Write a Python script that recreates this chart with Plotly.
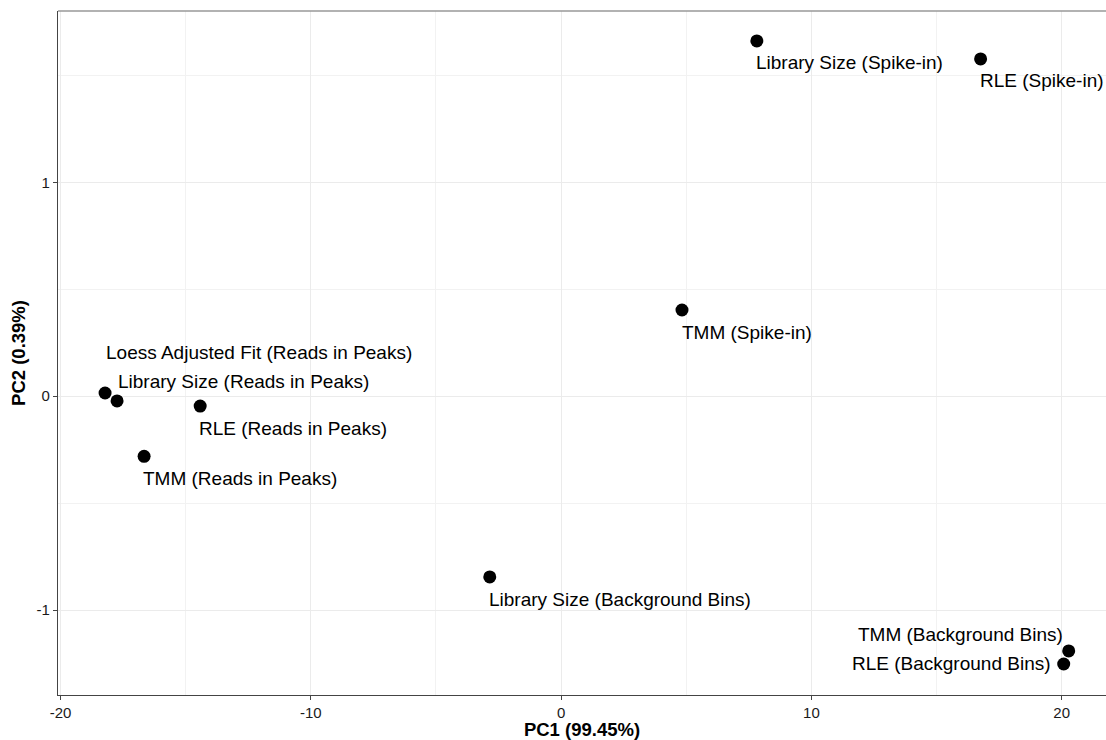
import plotly.graph_objects as go

labels = [
    "Library Size (Spike-in)",
    "RLE (Spike-in)",
    "TMM (Spike-in)",
    "Loess Adjusted Fit (Reads in Peaks)",
    "Library Size (Reads in Peaks)",
    "RLE (Reads in Peaks)",
    "TMM (Reads in Peaks)",
    "Library Size (Background Bins)",
    "TMM (Background Bins)",
    "RLE (Background Bins)",
]
pc1 = [7.82, 16.76, 4.83, -18.22, -17.74, -14.42, -16.66, -2.85, 20.28, 20.08]
pc2 = [1.661, 1.577, 0.403, 0.015, -0.022, -0.046, -0.281, -0.845, -1.191, -1.252]

# label placement (repel-like offsets, pixels): (xanchor, xshift, yshift)
label_pos = [
    ("left", -3, -22),
    ("left", -3, -22),
    ("left", -2, -22),
    ("left", -1, 41),
    ("left", -1, 19),
    ("left", -3, -22),
    ("left", -3, -22),
    ("left", -3, -23),
    ("right", -4, 16),
    ("right", -11, 0),
]

FONT = "Liberation Sans, Arial, Helvetica, sans-serif"

fig = go.Figure()
fig.add_trace(go.Scatter(
    x=pc1, y=pc2, mode="markers",
    marker=dict(size=13, color="black"),
    showlegend=False, hoverinfo="text", text=labels,
))

for lab, x, y, (xa, xs, ys) in zip(labels, pc1, pc2, label_pos):
    fig.add_annotation(
        x=x, y=y, text=lab, showarrow=False,
        xanchor=xa, yanchor="middle", xshift=xs, yshift=ys,
        font=dict(size=19, color="black", family=FONT),
    )

# top border of panel
fig.add_shape(type="line", xref="paper", yref="paper", x0=0, x1=1, y0=1, y1=1,
              line=dict(color="#999999", width=1.5))

fig.update_layout(
    width=1106, height=740,
    margin=dict(l=58, r=0, t=11, b=45),
    plot_bgcolor="white", paper_bgcolor="white",
    font=dict(family=FONT, color="black"),
    xaxis=dict(
        range=[-20.1, 21.77], tickvals=[-20, -10, 0, 10, 20],
        ticktext=["-20", "-10", "0", "10", "20"],
        showgrid=True, gridcolor="#ebebeb", gridwidth=1.2,
        minor=dict(tickvals=[-15, -5, 5, 15], showgrid=True, gridcolor="#f2f2f2", gridwidth=1),
        zeroline=False, showline=True, linecolor="#444444", linewidth=1.2,
        ticks="outside", ticklen=4, tickcolor="#444444",
        tickfont=dict(size=15, color="#1a1a1a"),
        title=dict(text="<b>PC1 (99.45%)</b>", font=dict(size=18.5, color="black"), standoff=4),
    ),
    yaxis=dict(
        range=[-1.397, 1.801], tickvals=[-1, 0, 1], ticktext=["-1", "0", "1"],
        showgrid=True, gridcolor="#ebebeb", gridwidth=1.2,
        minor=dict(tickvals=[-0.5, 0.5, 1.5], showgrid=True, gridcolor="#f2f2f2", gridwidth=1),
        zeroline=False, showline=True, linecolor="#444444", linewidth=1.2,
        ticks="outside", ticklen=4, tickcolor="#444444",
        tickfont=dict(size=15, color="#1a1a1a"),
        title=dict(text="<b>PC2 (0.39%)</b>", font=dict(size=18.5, color="black"), standoff=6),
    ),
)

fig.write_html("out.html")
